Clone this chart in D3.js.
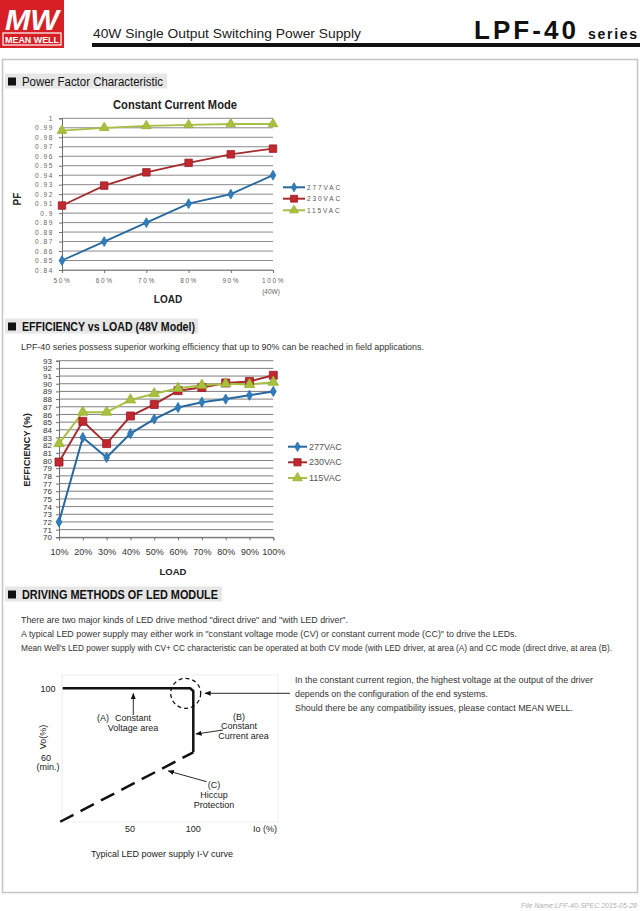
<!DOCTYPE html>
<html><head><meta charset="utf-8">
<script src="https://cdn.jsdelivr.net/npm/d3@7"></script>
<style>
html,body{margin:0;padding:0;background:#fff;}
svg{display:block;font-family:"Liberation Sans",Arial,sans-serif;}
.narrow{font-family:"Liberation Sans Narrow","Arial Narrow","Liberation Sans",Arial,sans-serif;}
</style></head>
<body>
<svg id="c" width="640" height="911"></svg>
<script>
// ---------- DATA ----------
const seriesNames = ["277VAC", "230VAC", "115VAC"];
const pfLoads = ["50%", "60%", "70%", "80%", "90%", "100%"];
const pfTickLabels = ["1", "0.99", "0.98", "0.97", "0.96", "0.95", "0.94", "0.93", "0.92", "0.91", "0.9", "0.89", "0.88", "0.87", "0.86", "0.85", "0.84"];
const pf277 = [0.850, 0.870, 0.890, 0.910, 0.920, 0.940];
const pf230 = [0.908, 0.929, 0.943, 0.953, 0.962, 0.968];
const pf115 = [0.987, 0.990, 0.992, 0.993, 0.994, 0.994];

const effLoads = ["10%", "20%", "30%", "40%", "50%", "60%", "70%", "80%", "90%", "100%"];
const effTickLabels = ["93","92","91","90","89","88","87","86","85","84","83","82","81","80","79","78","77","76","75","74","73","72","71","70"];
const eff277 = [72.0, 83.0, 80.4, 83.5, 85.4, 86.9, 87.6, 88.0, 88.5, 89.0];
const eff230 = [79.8, 85.1, 82.2, 85.8, 87.3, 89.1, 89.5, 90.1, 90.3, 91.1];
const eff115 = [82.2, 86.3, 86.3, 87.9, 88.7, 89.4, 89.8, 90.0, 89.9, 90.2];

// I-V curve (Io %, Vo %)
const ivCV = [[-3, 100], [97.5, 100], [100, 98.3], [100, 60]];
const ivHiccup = [[-5, 16.6], [100, 60]];
const ivXTicks = ["50", "100"];

// ---------- STYLE ----------
const lineCol = ["#27689e", "#a62b2e", "#a7bf45"];
const markCol = ["#2e7dbd", "#c1272d", "#a8c13c"];
const markStroke = ["#2a6fa8", "#97202a", "#98b036"];
const symbols = [d3.symbolDiamond, d3.symbolSquare, d3.symbolTriangle];

const svg = d3.select("#c");

// ---------- PAGE FRAME / HEADER ----------
svg.append("rect").attr("x", 2.5).attr("y", 59.5).attr("width", 635).attr("height", 833)
  .attr("fill", "none").attr("stroke", "#c4c4c4").attr("stroke-width", 1.5);

// logo
const logo = svg.append("g");
logo.append("rect").attr("x", 0).attr("y", 0).attr("width", 64).attr("height", 48).attr("fill", "#d71f26");
logo.append("text").attr("x", 32).attr("y", 30).attr("text-anchor", "middle")
  .attr("fill", "#fff").attr("font-size", 30).attr("font-weight", "bold").attr("font-style", "italic")
  .attr("textLength", 54).attr("lengthAdjust", "spacingAndGlyphs").text("MW");
logo.append("rect").attr("x", 3).attr("y", 33).attr("width", 58).attr("height", 12)
  .attr("fill", "#d71f26").attr("stroke", "#fff").attr("stroke-width", 1.2);
logo.append("text").attr("x", 32).attr("y", 43).attr("text-anchor", "middle")
  .attr("fill", "#fff").attr("font-size", 9).attr("font-weight", "bold")
  .attr("textLength", 54).attr("lengthAdjust", "spacingAndGlyphs").text("MEAN WELL");

svg.append("text").attr("x", 93).attr("y", 38).attr("font-size", 13).attr("fill", "#222")
  .attr("textLength", 268).attr("lengthAdjust", "spacingAndGlyphs")
  .text("40W Single Output Switching Power Supply");
svg.append("text").attr("x", 474).attr("y", 39).attr("font-size", 26).attr("fill", "#111")
  .attr("font-weight", "bold").attr("textLength", 102).attr("lengthAdjust", "spacing").text("LPF-40");
svg.append("text").attr("x", 588).attr("y", 39).attr("font-size", 14).attr("fill", "#111")
  .attr("font-weight", "bold").attr("textLength", 49).attr("lengthAdjust", "spacing").text("series");
svg.append("rect").attr("x", 92).attr("y", 43).attr("width", 548).attr("height", 4).attr("fill", "#111");

// section headings
function heading(x, y, w, txt, tw, weight) {
  svg.append("rect").attr("x", x).attr("y", y).attr("width", w).attr("height", 15).attr("fill", "#e6e6e6");
  svg.append("rect").attr("x", x + 3).attr("y", y + 4).attr("width", 8).attr("height", 8).attr("fill", "#111");
  svg.append("text").attr("class", "narrow").attr("x", x + 17).attr("y", y + 12).attr("font-size", 12)
    .attr("font-weight", weight).attr("fill", "#111")
    .attr("textLength", tw).attr("lengthAdjust", "spacingAndGlyphs").text(txt);
}
heading(5, 73.5, 162, "Power Factor Characteristic", 141, "normal");
heading(5, 318.5, 193, "EFFICIENCY vs LOAD (48V Model)", 173, "bold");
heading(5, 586.5, 217, "DRIVING METHODS OF LED MODULE", 196, "bold");

// ---------- PF CHART ----------
const xPF = d3.scalePoint().domain(pfLoads).range([62, 273]);
const yPF = d3.scaleLinear().domain([0.84, 1]).range([270, 118.3]);
const pfVals = pfTickLabels.map(Number);
const gPF = svg.append("g");
gPF.selectAll("line.grid").data(pfVals).join("line")
  .attr("x1", 62).attr("x2", 273).attr("y1", d => yPF(d)).attr("y2", d => yPF(d))
  .attr("stroke", "#8a8a8a").attr("stroke-width", 1);
const yAxPF = gPF.append("g").attr("transform", "translate(62,0)")
  .call(d3.axisLeft(yPF).tickValues(pfVals).tickSize(3).tickPadding(5)
    .tickFormat((d, i) => pfTickLabels[i]));
const xAxPF = gPF.append("g").attr("transform", "translate(0,270)")
  .call(d3.axisBottom(xPF).tickSize(3).tickPadding(5));
[yAxPF, xAxPF].forEach(a => {
  a.select(".domain").attr("stroke", "#6e6e6e");
  a.selectAll(".tick line").attr("stroke", "#6e6e6e");
  a.selectAll("text").attr("fill", "#666").attr("font-size", 6.5).attr("letter-spacing", 1.6)
    .attr("font-family", "Liberation Sans, Arial, sans-serif");
});
xAxPF.select(".domain").attr("stroke", "#8a8a8a");
gPF.append("text").attr("x", 271).attr("y", 294).attr("text-anchor", "middle").attr("font-size", 6.5)
  .attr("fill", "#666").text("(40W)");
gPF.append("text").attr("x", 168).attr("y", 303).attr("text-anchor", "middle").attr("font-size", 10)
  .attr("font-weight", "bold").attr("fill", "#222").text("LOAD");
gPF.append("text").attr("transform", "translate(21,199) rotate(-90)").attr("text-anchor", "middle")
  .attr("font-size", 10).attr("font-weight", "bold").attr("fill", "#222").text("PF");
gPF.append("text").attr("x", 175).attr("y", 108.5).attr("text-anchor", "middle").attr("font-size", 12)
  .attr("font-weight", "bold").attr("fill", "#222").attr("textLength", 124).attr("lengthAdjust", "spacingAndGlyphs")
  .text("Constant Current Mode");

function drawSeries(g, xs, ys, cats, data, sizes, lw) {
  data.forEach((vals, si) => {
    const line = d3.line().x((d, i) => xs(cats[i])).y(d => ys(d));
    g.append("path").attr("d", line(vals)).attr("fill", "none")
      .attr("stroke", lineCol[si]).attr("stroke-width", lw);
  });
  data.forEach((vals, si) => {
    g.selectAll(null).data(vals).join("path")
      .attr("transform", (d, i) => `translate(${xs(cats[i])},${ys(d)})`)
      .attr("d", d3.symbol().type(symbols[si]).size(sizes[si]))
      .attr("fill", markCol[si]).attr("stroke", markStroke[si]).attr("stroke-width", 0.8);
  });
}
drawSeries(gPF, xPF, yPF, pfLoads, [pf277, pf230, pf115], [28, 56, 40], 1.8);

function legend(g, x0, x1, ys, sizes, fs, spacing) {
  seriesNames.forEach((n, i) => {
    g.append("line").attr("x1", x0).attr("x2", x1).attr("y1", ys[i]).attr("y2", ys[i])
      .attr("stroke", lineCol[i]).attr("stroke-width", 2);
    g.append("path").attr("transform", `translate(${(x0 + x1) / 2},${ys[i]})`)
      .attr("d", d3.symbol().type(symbols[i]).size(sizes[i]))
      .attr("fill", markCol[i]).attr("stroke", markStroke[i]).attr("stroke-width", 0.8);
    g.append("text").attr("x", x1 + 2).attr("y", ys[i]).attr("dy", "0.35em").attr("font-size", fs)
      .attr("letter-spacing", spacing).attr("fill", "#555").text(n);
  });
}
legend(gPF, 283, 305, [187.3, 198.7, 210.3], [24, 48, 34], 6.5, 1.9);

// ---------- EFFICIENCY CHART ----------
svg.append("text").attr("class", "narrow").attr("x", 21).attr("y", 349.5).attr("font-size", 9.5).attr("fill", "#333")
  .attr("textLength", 403).attr("lengthAdjust", "spacingAndGlyphs")
  .text("LPF-40 series possess superior working efficiency that up to 90% can be reached in field applications.");

const xE = d3.scalePoint().domain(effLoads).range([59, 273.3]);
const yE = d3.scaleLinear().domain([70, 93]).range([537.3, 360.7]);
const effVals = effTickLabels.map(Number);
const gE = svg.append("g");
gE.selectAll("line.grid").data(effVals).join("line")
  .attr("x1", 59).attr("x2", 273.3).attr("y1", d => yE(d)).attr("y2", d => yE(d))
  .attr("stroke", "#7f7f7f").attr("stroke-width", 1);
const yAxE = gE.append("g").attr("transform", "translate(59,0)")
  .call(d3.axisLeft(yE).tickValues(effVals).tickSize(3).tickPadding(4).tickFormat((d, i) => effTickLabels[i]));
const xAxE = gE.append("g").attr("transform", "translate(0,537.3)")
  .call(d3.axisBottom(xE).tickSize(3).tickPadding(8));
[yAxE, xAxE].forEach(a => {
  a.select(".domain").attr("stroke", "#6e6e6e");
  a.selectAll(".tick line").attr("stroke", "#6e6e6e");
  a.selectAll("text").attr("fill", "#333").attr("font-size", 9)
    .attr("font-family", "Liberation Sans, Arial, sans-serif");
});
yAxE.selectAll("text").attr("font-size", 8);
gE.append("text").attr("x", 173).attr("y", 574.5).attr("text-anchor", "middle").attr("font-size", 9.5)
  .attr("font-weight", "bold").attr("fill", "#222").text("LOAD");
gE.append("text").attr("transform", "translate(29.5,450) rotate(-90)").attr("text-anchor", "middle")
  .attr("font-size", 9.5).attr("font-weight", "bold").attr("fill", "#222").text("EFFICIENCY (%)");
drawSeries(gE, xE, yE, effLoads, [eff277, eff230, eff115], [30, 64, 48], 2);
legend(gE, 288, 307, [446.7, 462.3, 478], [26, 52, 40], 9, 0);

// ---------- DRIVING METHODS TEXT ----------
const para = [
  ["There are two major kinds of LED drive method \"direct drive\" and \"with LED driver\".", 327],
  ["A typical LED power supply may either work in \"constant voltage mode (CV) or constant current mode (CC)\" to drive the LEDs.", 496],
  ["Mean Well's LED power supply with CV+ CC characteristic can be operated at both CV mode (with LED driver, at area (A) and CC mode (direct drive, at area (B).", 591]
];
para.forEach((p, i) => {
  svg.append("text").attr("class", "narrow").attr("x", 21).attr("y", 622.5 + i * 14).attr("font-size", 8.3)
    .attr("fill", "#333").attr("textLength", p[1]).attr("lengthAdjust", "spacingAndGlyphs").text(p[0]);
});
const note = [
  ["In the constant current region, the highest voltage at the output of the driver", 298],
  ["depends on the configuration of the end systems.", 193],
  ["Should there be any compatibility issues, please contact MEAN WELL.", 278]
];
note.forEach((p, i) => {
  svg.append("text").attr("class", "narrow").attr("x", 295).attr("y", 683 + [0, 14, 27.5][i]).attr("font-size", 9.2)
    .attr("fill", "#333").attr("textLength", p[1]).attr("lengthAdjust", "spacingAndGlyphs").text(p[0]);
});

// ---------- I-V CURVE ----------
const xIV = d3.scaleLinear().domain([0, 100]).range([66.5, 193.3]);
const yIV = d3.scaleLinear().domain([0, 100]).range([848.3, 688.3]);
const gIV = svg.append("g");
gIV.append("rect").attr("x", 62).attr("y", 675).attr("width", 216).attr("height", 147)
  .attr("fill", "none").attr("stroke", "#eeeeee").attr("stroke-width", 1);
const ivLine = d3.line().x(d => xIV(d[0])).y(d => yIV(d[1]));
gIV.append("path").attr("d", ivLine(ivCV)).attr("fill", "none").attr("stroke", "#111").attr("stroke-width", 2.5)
  .attr("stroke-linejoin", "round");
gIV.append("path").attr("d", ivLine(ivHiccup)).attr("fill", "none").attr("stroke", "#111").attr("stroke-width", 2.5)
  .attr("stroke-dasharray", "15,8");
gIV.append("circle").attr("cx", 185.7).attr("cy", 693.3).attr("r", 15).attr("fill", "none")
  .attr("stroke", "#111").attr("stroke-width", 1.3).attr("stroke-dasharray", "4,3");

svg.append("defs").append("marker").attr("id", "ah").attr("viewBox", "0 0 10 10").attr("refX", 9).attr("refY", 5)
  .attr("markerWidth", 7).attr("markerHeight", 7).attr("orient", "auto-start-reverse")
  .append("path").attr("d", "M0,1 L10,5 L0,9 Z").attr("fill", "#111");
function arrow(x1, y1, x2, y2) {
  gIV.append("line").attr("x1", x1).attr("y1", y1).attr("x2", x2).attr("y2", y2)
    .attr("stroke", "#111").attr("stroke-width", 0.9).attr("marker-end", "url(#ah)");
}
arrow(290, 693.3, 205, 693.3);
arrow(133.3, 715, 133.3, 693.5);
arrow(223, 730, 196, 734);
arrow(206.7, 781.7, 168.3, 771);

const ivT = (x, y, t, anchor) => gIV.append("text").attr("x", x).attr("y", y).attr("font-size", 9)
  .attr("fill", "#222").attr("text-anchor", anchor || "middle").text(t);
ivT(97, 721, "(A)", "start"); ivT(115, 721, "Constant", "start");
ivT(133, 731, "Voltage area");
ivT(239, 720, "(B)"); ivT(239, 728.5, "Constant"); ivT(243.5, 738.5, "Current area");
ivT(214, 787.5, "(C)"); ivT(214, 797.5, "Hiccup"); ivT(214, 807.5, "Protection");
ivT(48, yIV(100) + 3.5, "100");
ivT(46, yIV(60) + 9, "60");
ivT(48, yIV(60) + 17.5, "(min.)");
gIV.append("text").attr("transform", "translate(46,737) rotate(-90)").attr("text-anchor", "middle")
  .attr("font-size", 9).attr("fill", "#222").text("Vo(%)");
ivXTicks.forEach(t => ivT(xIV(+t), 831.5, t));
ivT(265, 831.5, "Io (%)");
ivT(162, 857, "Typical LED power supply I-V curve");

// footer
svg.append("text").attr("x", 637).attr("y", 908).attr("text-anchor", "end").attr("font-size", 7)
  .attr("font-style", "italic").attr("fill", "#b0b0b0").text("File Name:LPF-40-SPEC   2015-05-28");
</script>
</body></html>
